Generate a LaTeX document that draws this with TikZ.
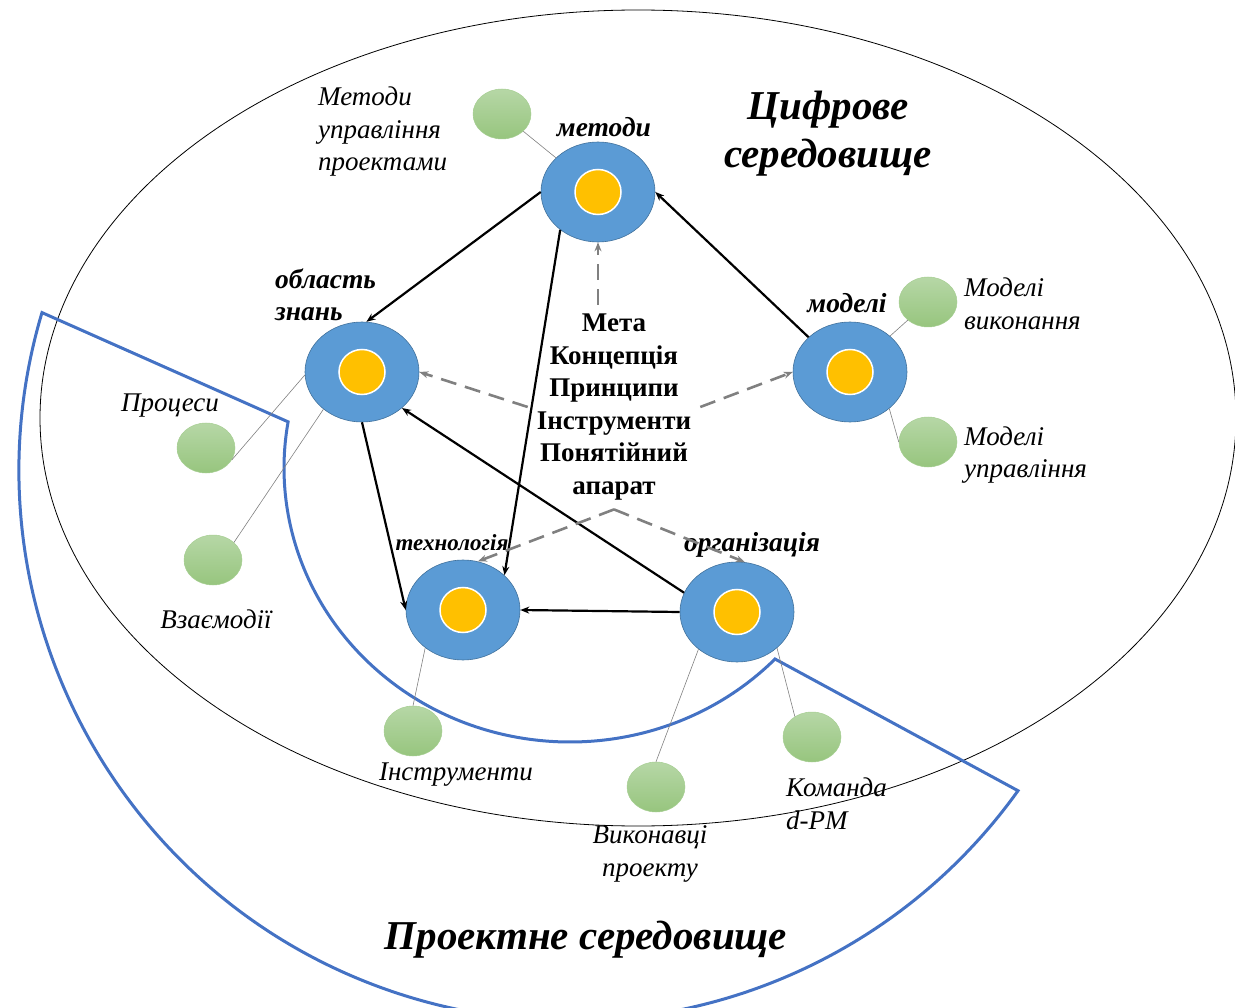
\documentclass[tikz,border=0pt]{standalone}
\usepackage{fontspec}
\setmainfont{Liberation Serif}
\usetikzlibrary{positioning, arrows.meta, shapes.geometric}
\definecolor{hubblue}{HTML}{5B9BD5}
\definecolor{hubedge}{HTML}{41719C}
\definecolor{coreamber}{HTML}{FFC000}
\definecolor{leaftop}{HTML}{B6D7A6}
\definecolor{leafbottom}{HTML}{97C57E}
\definecolor{leafedge}{HTML}{A6CE92}
\definecolor{envblue}{HTML}{4472C4}

\begin{document}
\begin{tikzpicture}[
  x=1pt, y=-1pt,
  hub/.style={ellipse, fill=hubblue, draw=hubedge, line width=0.6pt, minimum width=114pt, minimum height=100pt, inner sep=0pt},
  coredot/.style={ellipse, fill=coreamber, draw=white, line width=1.5pt, minimum width=46pt, minimum height=45pt, inner sep=0pt},
  leaf/.style={ellipse, top color=leaftop, bottom color=leafbottom, draw=leafedge, line width=0.5pt, minimum width=58pt, minimum height=50pt, inner sep=0pt},
  tag/.style={font=\fontsize{27}{32.5}\selectfont\itshape, inner sep=0pt},
  hubtag/.style={font=\fontsize{27.5}{32}\selectfont\bfseries\itshape, inner sep=0pt},
  envtitle/.style={font=\fontsize{41}{48}\selectfont\bfseries\itshape, inner sep=0pt, align=center},
  link/.style={-{Stealth[length=9pt, width=7pt]}, line width=2.2pt, black},
  dasharrow/.style={-{Stealth[length=9pt, width=7pt]}, line width=2.6pt, gray, dash pattern=on 16pt off 9pt},
  tether/.style={line width=0.6pt, black!50}
]
\useasboundingbox (0,0) rectangle (1235,1008);

% Digital environment
\draw[line width=0.8pt] (638,418) ellipse [x radius=598pt, y radius=408pt];

% Project environment
\coordinate (pcen) at (570,470);
\coordinate (pin) at (570,468);
\draw[envblue, line width=3pt, line join=miter]
  ([shift={(196.6:551)}]pcen) arc[start angle=196.6, end angle=35.6, radius=551]
  -- ([shift={(44.2:286 and 274)}]pin) arc[start angle=44.2, end angle=189.7, x radius=286, y radius=274]
  -- cycle;

% Hubs
\node[hub] (met) at (598,192) {};
\node[hub] (obl) at (362,372) {};
\node[hub] (mod) at (850,372) {};
\node[hub] (tech) at (463,610) {};
\node[hub] (org) at (737,612) {};
\foreach \h in {met, obl, mod, tech, org}
  \node[coredot] (\h-dot) at (\h) {};

% Hub labels
\node[hubtag] (met-t) at (604,127) {методи};
\node[hubtag, anchor=west, align=left] (obl-t) at (275,295) {область\\знань};
\node[hubtag] (mod-t) at (847,303) {моделі};
\node[hubtag, font=\fontsize{23}{28}\selectfont\bfseries\itshape] (tech-t) at (452,543) {технологія};
\node[hubtag] (org-t) at (752,545) {організація};

% Core text
\node[font=\fontsize{27}{32.6}\selectfont\bfseries, align=center, inner sep=9pt] (core) at (614,407)
  {Мета\\Концепція\\Принципи\\Інструменти\\Понятійний\\апарат};

% Leaves
\node[leaf] (l-met) at (502,114) {};
\node[leaf] (l-proc) at (206,448) {};
\node[leaf] (l-vz) at (213,560) {};
\node[leaf] (l-mv) at (928,302) {};
\node[leaf] (l-mu) at (928,442) {};
\node[leaf] (l-ins) at (413,731) {};
\node[leaf] (l-vyk) at (656,787) {};
\node[leaf] (l-kom) at (812,737) {};

% Leaf labels
\node[tag, anchor=west, align=left] (l-met-t) at (318,132) {Методи\\управління\\проектами};
\node[tag] (l-proc-t) at (170,406) {Процеси};
\node[tag] (l-vz-t) at (216,619) {Взаємодії};
\node[tag, anchor=west, align=left] (l-mv-t) at (964,304) {Моделі\\виконання};
\node[tag, anchor=west, align=left] (l-mu-t) at (964,455) {Моделі\\управління};
\node[tag] (l-ins-t) at (456,775) {Інструменти};
\node[tag, align=center] (l-vyk-t) at (650,854) {Виконавці\\проекту};
\node[tag, anchor=west, align=left] (l-kom-t) at (786,804) {Команда\\d-PM};

% Environment titles
\node[envtitle] (digital) at (828,134) {Цифрове\\середовище};
\node[envtitle] (project) at (586,940) {Проектне середовище};

% Tethers
\draw[tether] (l-met) -- (met);
\draw[tether] (l-proc.-25) -- (obl.183);
\draw[tether] (l-vz.40) -- (obl.-136);
\draw[tether] (l-mv) -- (mod);
\draw[tether] (mod.-43) -- (l-mu.west);
\draw[tether] (tech.-135) -- (l-ins.north);
\draw[tether] (org.-136) -- (l-vyk.north);
\draw[tether] (org.-42) -- (l-kom.130);

% Links
\draw[link] (met.west) -- (obl.85);
\draw[link] (met.-135) -- (tech.40);
\draw[link] (mod.140) -- (met.east);
\draw[link] (obl.south) -- (tech.west);
\draw[link] (org.160) -- (obl.-42);
\draw[link] (org.west) -- (tech.east);

% Dashed links from the core
\draw[dasharrow] (core.north -| met) -- (met.south);
\draw[dasharrow] (core.west) -- (obl.east);
\draw[dasharrow] (core.east) -- (mod.west);
\draw[dasharrow] (core.south) -- (tech.73);
\draw[dasharrow] (core.south) -- (org.81);

\end{tikzpicture}
\end{document}
